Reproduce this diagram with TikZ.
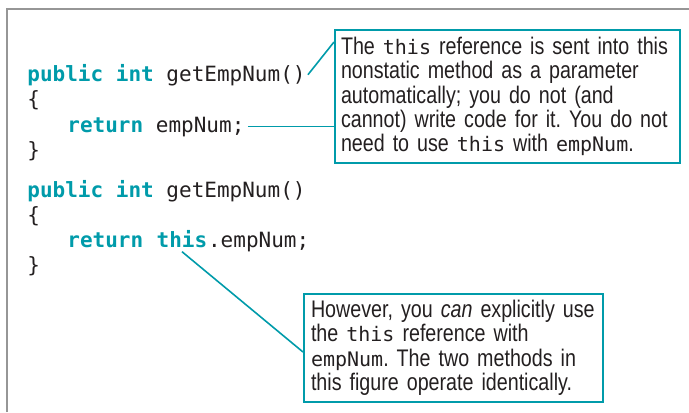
\documentclass[tikz,border=0pt]{standalone}
\usepackage{fontspec}
\setmainfont[FakeStretch=0.82]{Liberation Sans}
\setmonofont{DejaVu Sans Mono}
\usetikzlibrary{positioning,calc}
\definecolor{calloutteal}{RGB}{0,155,170}
\definecolor{codegray}{RGB}{35,31,32}
\definecolor{framegray}{RGB}{150,150,150}
\frenchspacing

\tikzset{
  codeline/.style={anchor=base west, inner sep=0pt, font=\fontsize{10.5}{12}\ttfamily, text=codegray},
  callout/.style={draw=calloutteal, line width=1pt, anchor=north west, align=left,
    inner xsep=3pt, inner ysep=3.5pt, font=\fontsize{12}{12.2}\selectfont, text=codegray},
  leader/.style={draw=calloutteal, line width=0.8pt},
}
\newcommand{\kw}[1]{\textcolor{calloutteal}{\textbf{#1}}}
\newcommand{\cw}[1]{{\fontsize{10}{12}\ttfamily #1}}

\begin{document}
\begin{tikzpicture}[x=0.5pt,y=-0.5pt]
  \useasboundingbox (0,0) rectangle (689,412);
  \draw[framegray, line width=1pt] (7,412) -- (7,9) -- (689,9);

  % first method
  \node[codeline] (sigA) at (27,81) {\kw{public int} getEmpNum()};
  \node[codeline] (openA) at (27,106) {\{};
  \node[codeline] (retA) at (67,132) {\kw{return} empNum;};
  \node[codeline] (closeA) at (27,157) {\}};

  % second method
  \node[codeline] (sigB) at (27,197) {\kw{public int} getEmpNum()};
  \node[codeline] (openB) at (27,222) {\{};
  \node[codeline] (retB) at (67,247) {\kw{return}\phantom{x}};
  \node[codeline] (thisB) at (retB.base east) {\kw{this}};
  \node[codeline] (dotB) at (thisB.base east) {.empNum;};
  \node[codeline] (closeB) at (27,272) {\}};

  % callouts
  \node[callout, text width=166.5pt] (noteA) at (334,29)
    {The \cw{this} reference is sent into this\\
     nonstatic method as a parameter\\
     automatically; you do not (and\\
     cannot) write code for it. You do not\\
     need to use \cw{this} with \cw{empNum}.};
  \node[callout, inner xsep=3.5pt, inner ysep=3pt, text width=142.5pt] (noteB) at (303,293)
    {However, you \textit{can} explicitly use\\
     the \cw{this} reference with\\
     \cw{empNum}. The two methods in\\
     this figure operate identically.};

  \draw[leader] ([xshift=1pt]sigA.east) -- ([yshift=-6.5pt]noteA.north west);
  \draw[leader] ([xshift=1.5pt]retA.east) -- (retA.east -| noteA.west);
  \draw[leader] ([yshift=-2pt]thisB.south) -- ([yshift=-29.5pt]noteB.north west);
\end{tikzpicture}
\end{document}
